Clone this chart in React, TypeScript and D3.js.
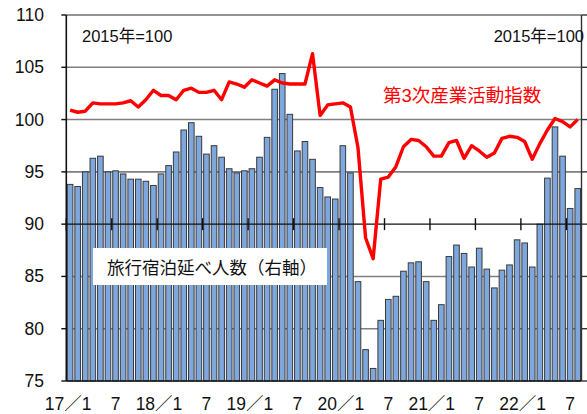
import React from 'react';
import * as d3 from 'd3';

// 旅行宿泊延べ人数 (bars, drawn on the left scale)
const travelStays = [
  93.8, 93.6, 95.0, 96.3, 96.5, 95.0, 95.1, 94.8, 94.3, 94.3, 94.1, 93.7,
  94.8, 95.6, 96.9, 99.0, 99.7, 98.4, 96.7, 97.5, 96.4, 95.3, 94.9, 95.1,
  95.3, 96.4, 98.3, 102.9, 104.4, 100.5, 97.0, 97.9, 96.2, 93.5, 92.6, 92.4,
  97.5, 94.9, 84.5, 78.0, 76.2, 80.8, 82.8, 83.1, 85.5, 86.3, 86.4, 84.5,
  80.8, 82.3, 86.9, 88.0, 87.2, 85.9, 87.7, 85.7, 83.9, 85.6, 86.1, 88.5,
  88.2, 85.9, 90.0, 94.4, 99.3, 96.5, 91.5, 93.4,
];

// 第3次産業活動指数
const tertiaryIndex = [
  100.9, 100.7, 100.8, 101.6, 101.5, 101.5, 101.5, 101.6, 101.8, 101.2, 101.9, 102.8,
  102.3, 102.3, 101.9, 102.8, 103.0, 102.6, 102.6, 102.8, 101.9, 103.6, 103.4, 103.1,
  103.8, 103.5, 103.2, 103.8, 103.5, 103.4, 103.4, 103.4, 106.3, 100.4, 101.4, 101.5,
  101.6, 101.2, 97.3, 88.7, 86.7, 94.3, 94.5, 95.5, 97.4, 98.1, 98.0, 97.4,
  96.5, 96.5, 97.8, 98.0, 96.3, 97.5, 97.0, 96.4, 96.8, 98.2, 98.4, 98.3,
  97.9, 96.2, 97.7, 99.0, 100.1, 99.8, 99.3, 100.0,
];

const years = ['17', '18', '19', '20', '21', '22'];
const months = years.flatMap((y) => d3.range(1, 13).map((m) => `${y}/${m}`)).slice(0, travelStays.length);
const yTicks = [75, 80, 85, 90, 95, 100, 105, 110];
const gridValues = [80, 85, 95, 100, 105];

const FONT = '"Liberation Sans", Arial, "Noto Sans CJK JP", sans-serif';

export default function App() {
  const left = 66.3;
  const right = 581.5;
  const top = 15;
  const bottom = 381;

  const x = d3.scaleBand().domain(months).range([left, right]).paddingInner(0.26).paddingOuter(0.13);
  const y = d3.scaleLinear().domain([75, 110]).range([bottom, top]);
  const step = x.step();
  const boundary = (i: number) => left + i * step;

  const line = d3
    .line<number>()
    .x((_, i) => (x(months[i]) as number) + x.bandwidth() / 2)
    .y((d) => y(d));

  const labelIdx = d3.range(0, months.length, 6);

  return (
    <svg
      width={587}
      height={414}
      style={{ position: 'absolute', left: 0, top: 0, background: '#fff' }}
      fontFamily={FONT}
    >
      {/* grid */}
      {gridValues.map((v) => (
        <line key={v} x1={left} x2={right} y1={y(v)} y2={y(v)} stroke="#7f7f7f" strokeWidth={1.6} />
      ))}
      <line x1={left} x2={right} y1={top} y2={top} stroke="#6f6f6f" strokeWidth={1.6} />

      {/* bars */}
      {travelStays.map((v, i) => (
        <rect
          key={i}
          x={x(months[i])}
          y={y(v)}
          width={x.bandwidth()}
          height={bottom - y(v)}
          fill="#7ea7dd"
          stroke="#3a3a3a"
          strokeWidth={1}
        />
      ))}

      {/* category axis at 90 */}
      <line x1={left} x2={right} y1={y(90)} y2={y(90)} stroke="#111" strokeWidth={1.4} />
      {labelIdx.map((i) => (
        <line key={i} x1={boundary(i)} x2={boundary(i)} y1={y(90) - 6} y2={y(90) + 6} stroke="#111" strokeWidth={1.4} />
      ))}

      {/* axes */}
      <line x1={left} x2={left} y1={top} y2={bottom} stroke="#111" strokeWidth={1.6} />
      <line x1={right} x2={right} y1={top} y2={bottom} stroke="#333" strokeWidth={1.4} />
      <line x1={left} x2={right} y1={bottom} y2={bottom} stroke="#111" strokeWidth={1.6} />
      {yTicks.map((v) => (
        <g key={v}>
          <line x1={left - 5} x2={left} y1={y(v)} y2={y(v)} stroke="#111" strokeWidth={1.4} />
          <line x1={right} x2={right + 6} y1={y(v)} y2={y(v)} stroke="#333" strokeWidth={1.4} />
          <text x={44} y={y(v) + 6} textAnchor="end" fontSize={17.5} fill="#111">
            {v}
          </text>
        </g>
      ))}

      {/* month labels */}
      {labelIdx.map((i) => (
        <text
          key={i}
          x={(x(months[i]) as number) + x.bandwidth() / 2 - (months[i].endsWith('/1') ? 2 : 0)}
          y={410}
          textAnchor="middle"
          fontSize={17.5}
          fill="#111"
        >
          {months[i].endsWith('/1') ? months[i].replace('/', '／') : months[i].split('/')[1]}
        </text>
      ))}

      {/* red line */}
      <path d={line(tertiaryIndex) ?? ''} fill="none" stroke="#ff0000" strokeWidth={3.4} strokeLinejoin="round" />

      {/* annotations */}
      <text x={82} y={42} fontSize={16.5} fill="#111">2015年=100</text>
      <text x={584} y={42} fontSize={16.5} fill="#111" textAnchor="end">2015年=100</text>
      <text x={383} y={102} fontSize={18.5} fill="#ff0000">第3次産業活動指数</text>

      <rect x={93} y={248} width={234} height={37} fill="#fff" />
      <text x={107} y={274} fontSize={17.5} fill="#111">旅行宿泊延べ人数（右軸）</text>
    </svg>
  );
}
